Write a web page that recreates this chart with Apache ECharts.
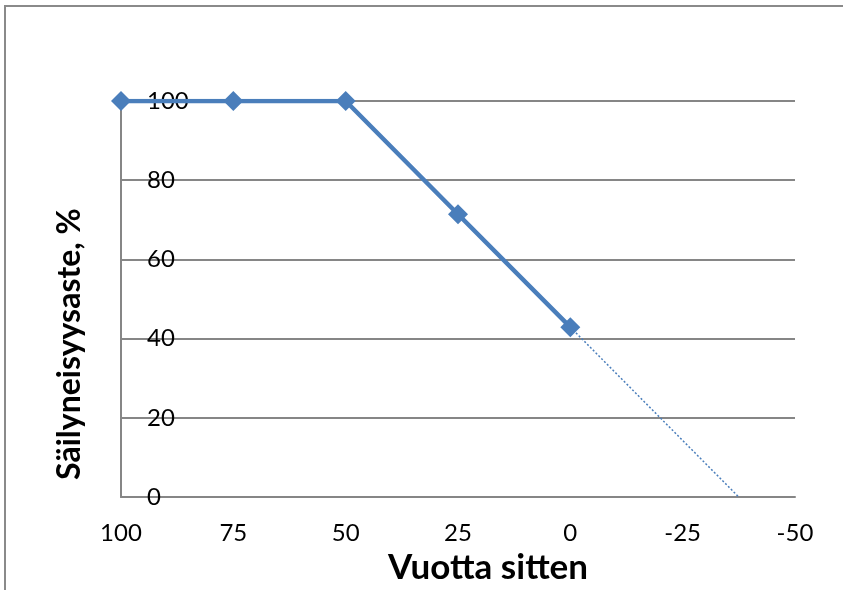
<!DOCTYPE html>
<html>
<head>
<meta charset="utf-8">
<script src="https://cdn.jsdelivr.net/npm/echarts@6/dist/echarts.min.js"></script>
<style>
  html, body { margin: 0; padding: 0; background: #fff; }
  #chart { width: 843px; height: 590px; }
</style>
</head>
<body>
<div id="chart"></div>
<script>
// vuodet (vuotta sitten) ja säilyneisyysaste
const years = [100, 75, 50, 25, 0];
const preserved = [100, 100, 100, 71.4, 42.9];
// katkoviivainen jatke nollaan asti
const trendYears = [0, -37.5];
const trendValues = [42.9, 0];

const font = 'Lato, "Liberation Sans", sans-serif';
const blue = '#4a7ebb';

const chart = echarts.init(document.getElementById('chart'));
chart.setOption({
  animation: false,
  graphic: [{
    type: 'rect',
    shape: { x: 5, y: 6, width: 900, height: 700 },
    style: { fill: 'none', stroke: '#8a8a8a', lineWidth: 2 },
    silent: true
  }],
  grid: { left: 121, right: 48, top: 101, bottom: 92 },
  xAxis: {
    type: 'value',
    inverse: true,
    min: -50,
    max: 100,
    interval: 25,
    name: 'Vuotta sitten',
    nameLocation: 'middle',
    nameGap: 50,
    nameTextStyle: { fontFamily: font, fontSize: 35, fontWeight: 'bold', color: '#000', padding: [0, 0, 0, 60] },
    axisLine: { show: true, onZero: false, lineStyle: { color: '#868686', width: 2 } },
    axisTick: { show: false },
    axisLabel: { fontFamily: font, fontSize: 24, color: '#000', margin: 24 },
    splitLine: { show: false }
  },
  yAxis: {
    type: 'value',
    min: 0,
    max: 100,
    interval: 20,
    name: 'Säilyneisyysaste, %',
    nameLocation: 'middle',
    nameGap: 35,
    nameTextStyle: { fontFamily: font, fontSize: 32, fontWeight: 'bold', color: '#000', padding: [0, 90, 0, 0] },
    axisLine: { show: true, onZero: false, lineStyle: { color: '#868686', width: 2 } },
    axisTick: { show: false },
    axisLabel: { fontFamily: font, fontSize: 24, color: '#000', align: 'left', margin: -26 },
    splitLine: { show: true, lineStyle: { color: '#868686', width: 2 } }
  },
  series: [
    {
      type: 'line',
      data: trendYears.map((x, i) => [x, trendValues[i]]),
      showSymbol: false,
      lineStyle: { color: blue, width: 1.5, type: [2, 2] },
      z: 2
    },
    {
      type: 'line',
      data: years.map((x, i) => [x, preserved[i]]),
      symbol: 'diamond',
      symbolSize: 20,
      itemStyle: { color: blue },
      lineStyle: { color: blue, width: 4.5 },
      z: 3
    }
  ]
});
</script>
</body>
</html>
